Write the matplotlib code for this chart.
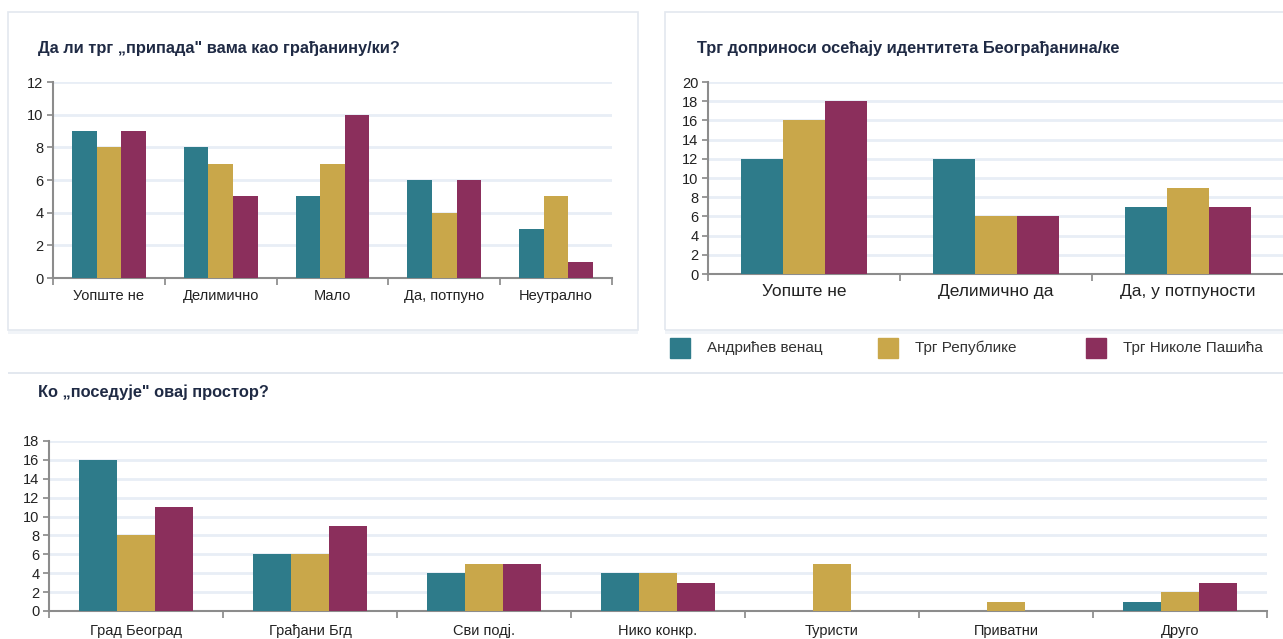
import numpy as np
import matplotlib.pyplot as plt
from matplotlib.patches import Rectangle

W, H = 1283, 639

series = ['Андрићев венац', 'Трг Републике', 'Трг Николе Пашића']
colors = ['#2e7b8a', '#c9a74a', '#8b2f5c']

# chart 1
cats1 = ['Уопште не', 'Делимично', 'Мало', 'Да, потпуно', 'Неутрално']
andricev1 = [9, 8, 5, 6, 3]
republike1 = [8, 7, 7, 4, 5]
pasica1 = [9, 5, 10, 6, 1]

# chart 2
cats2 = ['Уопште не', 'Делимично да', 'Да, у потпуности']
andricev2 = [12, 12, 7]
republike2 = [16, 6, 9]
pasica2 = [18, 6, 7]

# chart 3
cats3 = ['Град Београд', 'Грађани Бгд', 'Сви подј.', 'Нико конкр.', 'Туристи', 'Приватни', 'Друго']
andricev3 = [16, 6, 4, 4, 0, 0, 1]
republike3 = [8, 6, 5, 4, 5, 1, 2]
pasica3 = [11, 9, 5, 3, 0, 0, 3]

plt.rcParams['font.family'] = ['Liberation Sans Narrow', 'Liberation Sans', 'DejaVu Sans']
title_color = '#1f2a44'
title_font = ['Liberation Sans', 'DejaVu Sans']


def px_rect(x0, y0, x1, y1):
    return [x0 / W, 1 - y1 / H, (x1 - x0) / W, (y1 - y0) / H]


def bar_chart(ax, cats, vals, ymax, step, tick_fs, cat_fs, pad):
    x = np.arange(len(cats))
    w = 0.22
    for k, v in enumerate(vals):
        ax.bar(x + (k - 1) * w, v, w, color=colors[k], zorder=3)
    ax.set_xlim(-0.5, len(cats) - 0.5)
    ax.set_ylim(0, ymax)
    ax.set_yticks(np.arange(0, ymax + 1, step))
    ax.set_xticks(x)
    ax.set_xticklabels(cats, fontsize=cat_fs, color='#222222')
    ax.set_xticks(np.arange(-0.5, len(cats)), minor=True)
    ax.tick_params(axis='x', which='major', length=0, pad=pad)
    ax.tick_params(axis='x', which='minor', length=5, color='#888888', width=1.2)
    ax.tick_params(axis='y', length=4, color='#888888', width=1.2, labelsize=tick_fs,
                   labelcolor='#222222', pad=3)
    ax.grid(axis='y', color='#e8eef6', linewidth=2, zorder=0)
    for s in ['top', 'right']:
        ax.spines[s].set_visible(False)
    for s in ['left', 'bottom']:
        ax.spines[s].set_color('#8c8c8c')
        ax.spines[s].set_linewidth(1.5)
    ax.set_axisbelow(True)


fig = plt.figure(figsize=(W / 100, H / 100), dpi=100)

# panel frames with a soft shadow at the bottom
frame = '#e3e8ef'
for x0 in [8, 665]:
    fig.patches.append(Rectangle((x0 / W, 1 - 334 / H), 630 / W, 4 / H, transform=fig.transFigure,
                                 color='#f1f4f8', linewidth=0))
    fig.patches.append(Rectangle((x0 / W, 1 - 330 / H), 630 / W, 318 / H, transform=fig.transFigure,
                                 fill=False, edgecolor=frame, linewidth=1.2))
fig.patches.append(Rectangle((8 / W, 1 - 374 / H), 1275 / W, 2 / H, transform=fig.transFigure,
                             color=frame, linewidth=0))

ax1 = fig.add_axes(px_rect(53, 82, 612, 278))
bar_chart(ax1, cats1, [andricev1, republike1, pasica1], 12, 2, 10.5, 10.5, 8)
fig.text(38 / W, 1 - 48 / H, 'Да ли трг „припада" вама као грађанину/ки?', fontsize=11.8,
         fontweight='bold', color=title_color, family=title_font, va='center')

ax2 = fig.add_axes(px_rect(708, 82, 1284, 274))
bar_chart(ax2, cats2, [andricev2, republike2, pasica2], 20, 2, 10.5, 12.5, 7)
fig.text(697 / W, 1 - 48 / H, 'Трг доприноси осећају идентитета Београђанина/ке', fontsize=11.8,
         fontweight='bold', color=title_color, family=title_font, va='center')

# legend
leg_x = [670, 878, 1086]
for k in range(3):
    fig.patches.append(Rectangle((leg_x[k] / W, 1 - 358 / H), 20 / W, 20 / H,
                                 transform=fig.transFigure, color=colors[k]))
    fig.text((leg_x[k] + 37) / W, 1 - 348 / H, series[k], fontsize=11, color='#333333',
             family=['Liberation Sans', 'DejaVu Sans'], va='center')

ax3 = fig.add_axes(px_rect(49, 441, 1267, 611))
bar_chart(ax3, cats3, [andricev3, republike3, pasica3], 18, 2, 10.5, 10.5, 9)
fig.text(38 / W, 1 - 392 / H, 'Ко „поседује" овај простор?', fontsize=11.8,
         fontweight='bold', color=title_color, family=title_font, va='center')

fig.savefig('out.png', dpi=100)
